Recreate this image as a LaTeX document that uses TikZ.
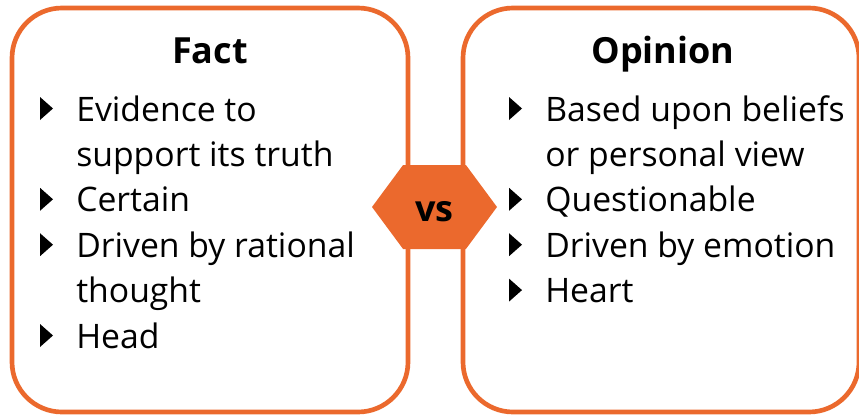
\documentclass[tikz,border=0pt]{standalone}
\usepackage{fontspec}
\setmainfont{Open Sans}
\usetikzlibrary{shapes.symbols}

\definecolor{vsorange}{RGB}{235,105,45}

\begin{document}
\begin{tikzpicture}[x=0.75pt, y=-0.75pt,
        panel/.style={draw=vsorange, line width=3.5pt, rounded corners=37.5pt,
            minimum width=297pt, minimum height=303pt, inner sep=0pt},
        headtext/.style={anchor=base, inner sep=0pt, font=\fontsize{27pt}{32pt}\selectfont\bfseries},
        itemtext/.style={anchor=base west, inner sep=0pt, align=left,
            font=\fontsize{25.3pt}{34.05pt}\selectfont},
        vshex/.style={shape=signal, signal to=west and east, signal pointer angle=107,
            fill=vsorange, minimum width=93.75pt, minimum height=63pt, inner sep=0pt,
            text height=22.5pt, font=\fontsize{27pt}{32pt}\selectfont\bfseries}]

        \useasboundingbox (0,0) rectangle (859,414);

        % the two panels
        \node[panel] (fact) at (210,210) {};
        \node[panel] (opinion) at (661,210) {};

        \node[headtext] (facttitle) at (210,63) {Fact};
        \node[headtext] (opiniontitle) at (663,63) {Opinion};

        % bullet items: first row, number of lines; one row = 45.4px
        \foreach \n/\x/\r/\l/\t in {
                fa/76/0/2/{Evidence to\\support its truth},
                fb/76/2/1/{Certain},
                fc/76/3/2/{Driven by rational\\thought},
                fd/76/5/1/{Head},
                oa/545/0/2/{Based upon beliefs\\or personal view},
                ob/545/2/1/{Questionable},
                oc/545/3/1/{Driven by emotion},
                od/545/4/1/{Heart}} {
            \node[itemtext] (\n) at (\x,121+45.4*\r+45.4*\l-45.4) {\t};
            \fill ([yshift=34.05pt*\l-34.05pt]\n.base west) ++(-36,-1) -- ++(0,-23) -- ++(13,11.5) -- cycle;
        }

        \node[vshex] (vs) at (434.5,207) {vs};
    \end{tikzpicture}
\end{document}
